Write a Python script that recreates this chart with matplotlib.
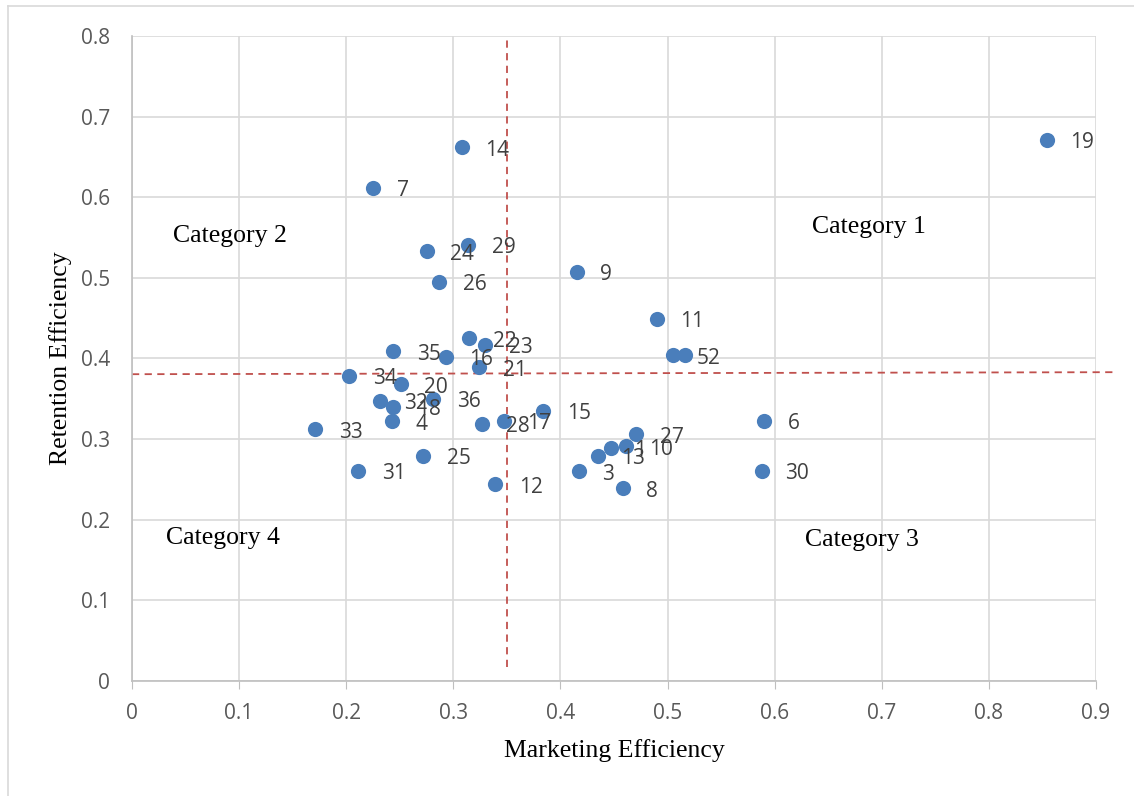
import matplotlib
matplotlib.use("Agg")
import matplotlib.pyplot as plt
from matplotlib.lines import Line2D

# point ids with (marketing, retention) efficiency
ids = [1, 2, 3, 4, 5, 6, 7, 8, 9, 10, 11, 12, 13, 14, 15, 16, 17, 18,
       19, 20, 21, 22, 23, 24, 25, 26, 27, 28, 29, 30, 31, 32, 33, 34, 35, 36]
marketing = [0.447, 0.516, 0.417, 0.243, 0.505, 0.590, 0.225, 0.458, 0.415, 0.461,
             0.490, 0.339, 0.435, 0.308, 0.384, 0.293, 0.347, 0.244, 0.854, 0.251,
             0.324, 0.315, 0.330, 0.275, 0.272, 0.287, 0.471, 0.327, 0.314, 0.588,
             0.211, 0.232, 0.171, 0.203, 0.244, 0.281]
retention = [0.289, 0.404, 0.260, 0.322, 0.404, 0.323, 0.612, 0.239, 0.507, 0.291,
             0.449, 0.244, 0.279, 0.662, 0.335, 0.402, 0.323, 0.340, 0.671, 0.368,
             0.389, 0.425, 0.417, 0.533, 0.279, 0.495, 0.306, 0.319, 0.541, 0.261,
             0.261, 0.347, 0.312, 0.378, 0.409, 0.350]

categories = ["Category 1", "Category 2", "Category 3", "Category 4"]
category_pos = [(0.635, 0.563), (0.038, 0.552), (0.6285, 0.175), (0.0315, 0.177)]

split_x = 0.3505
split_y = (0.3805, 0.3830)

fig = plt.figure(figsize=(11.34, 7.96), dpi=100)
ax = fig.add_axes([0.1164, 0.1445, 0.8501, 0.8103])

# light frame around the chart
fig.add_artist(Line2D([8 / 1134, 8 / 1134], [0, 1 - 6 / 796], transform=fig.transFigure,
                      color="#d9d9d9", lw=1.2))
fig.add_artist(Line2D([8 / 1134, 1], [1 - 6 / 796, 1 - 6 / 796], transform=fig.transFigure,
                      color="#d9d9d9", lw=1.2))

ax.scatter(marketing, retention, s=120, color="#4a7ebb", zorder=3, linewidths=0)
for i, x, y in zip(ids, marketing, retention):
    ax.annotate(str(i), (x, y), xytext=(17, -2), textcoords="offset points",
                ha="left", va="center", fontsize=15, color="#404040",
                family="Open Sans", zorder=4)

ax.plot([split_x, split_x], [0.0175, 0.795], ls=(0, (4, 3)), color="#c0504d", lw=1.3, zorder=2)
ax.plot([0, 0.916], split_y, ls=(0, (4, 3)), color="#c0504d", lw=1.3, zorder=2, clip_on=False)

for name, (cx, cy) in zip(categories, category_pos):
    ax.text(cx, cy, name, fontsize=18.5, family="Liberation Serif", color="black",
            ha="left", va="center")

ax.set_xlim(0, 0.9)
ax.set_ylim(0, 0.8)
ax.set_xticks([i / 10 for i in range(10)])
ax.set_yticks([i / 10 for i in range(9)])
ax.set_xticklabels(["0"] + [f"{i / 10:g}" for i in range(1, 10)])
ax.set_yticklabels(["0"] + [f"{i / 10:g}" for i in range(1, 9)])
ax.grid(True, color="#d9d9d9", lw=1.2)
ax.set_axisbelow(True)
for side in ["top", "right"]:
    ax.spines[side].set_visible(False)
for side in ["left", "bottom"]:
    ax.spines[side].set_color("#bfbfbf")
    ax.spines[side].set_linewidth(1.2)
ax.tick_params(axis="x", length=6, color="#bfbfbf", labelsize=15, labelcolor="#595959", pad=10)
ax.tick_params(axis="y", length=0, labelsize=15, labelcolor="#595959", pad=16)
for lab in ax.get_xticklabels() + ax.get_yticklabels():
    lab.set_family("Open Sans")

ax.set_xlabel("Marketing Efficiency", fontsize=18.5, family="Liberation Serif", labelpad=11)
ax.set_ylabel("Retention Efficiency", fontsize=18.5, family="Liberation Serif", labelpad=6)

fig.savefig("out.png", dpi=100)
